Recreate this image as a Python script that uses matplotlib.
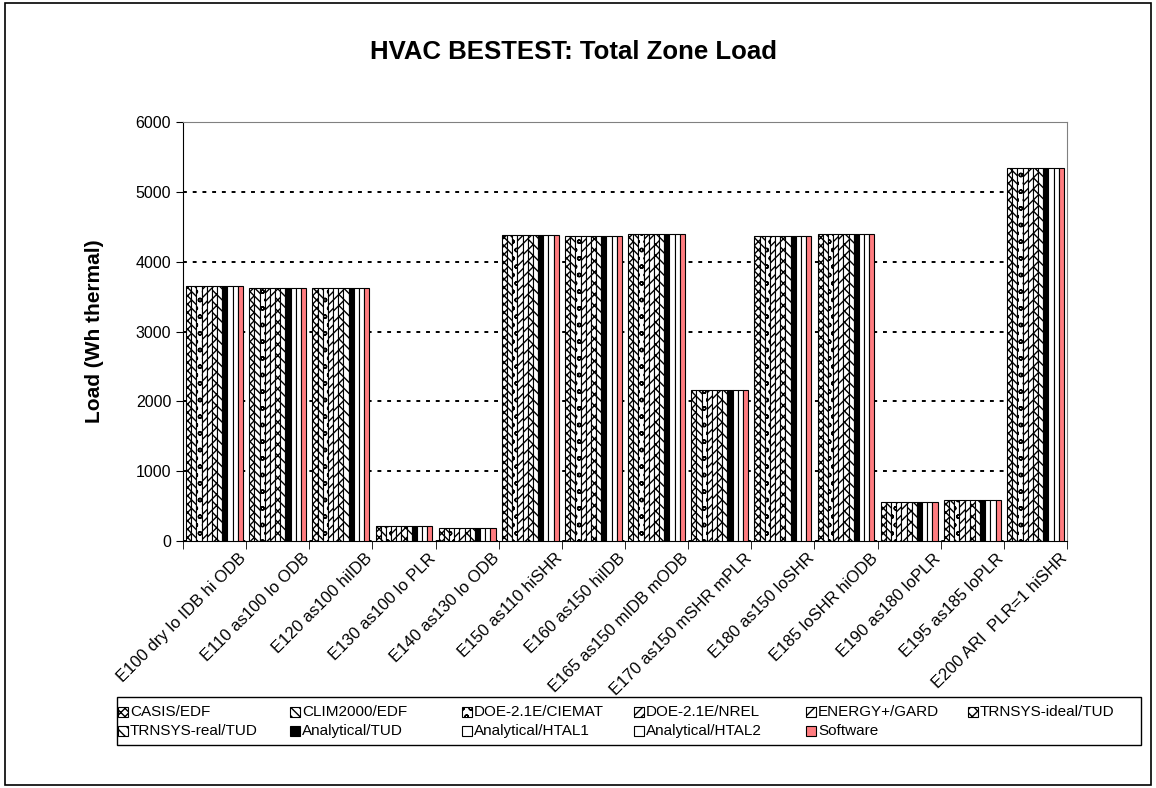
import matplotlib
matplotlib.use("Agg")
import matplotlib.pyplot as plt
import matplotlib.patches as mpatches
import matplotlib.transforms as mtransforms
import numpy as np

plt.rcParams['font.family'] = ['Liberation Sans', 'DejaVu Sans']
plt.rcParams['hatch.linewidth'] = 1.0

categories = ["E100 dry lo IDB hi ODB", "E110 as100 lo ODB", "E120 as100 hiIDB",
              "E130 as100 lo PLR", "E140 as130 lo ODB", "E150 as110 hiSHR",
              "E160 as150 hiIDB", "E165 as150 mIDB mODB", "E170 as150 mSHR mPLR",
              "E180 as150 loSHR", "E185 loSHR hiODB", "E190 as180 loPLR",
              "E195 as185 loPLR", "E200 ARI  PLR=1 hiSHR"]

series_names = ["CASIS/EDF", "CLIM2000/EDF", "DOE-2.1E/CIEMAT", "DOE-2.1E/NREL",
                "ENERGY+/GARD", "TRNSYS-ideal/TUD", "TRNSYS-real/TUD",
                "Analytical/TUD", "Analytical/HTAL1", "Analytical/HTAL2", "Software"]

casis_edf      = [3650, 3630, 3620, 210, 190, 4380, 4370, 4390, 2160, 4370, 4390, 560, 580, 5340]
clim2000_edf   = [3650, 3630, 3620, 210, 190, 4380, 4370, 4390, 2160, 4370, 4390, 560, 580, 5340]
doe_ciemat     = [3650, 3630, 3620, 210, 190, 4380, 4370, 4390, 2160, 4370, 4390, 560, 580, 5340]
doe_nrel       = [3650, 3630, 3620, 210, 190, 4380, 4370, 4390, 2160, 4370, 4390, 560, 580, 5340]
energyplus     = [3650, 3630, 3620, 210, 190, 4380, 4370, 4390, 2160, 4370, 4390, 560, 580, 5340]
trnsys_ideal   = [3650, 3630, 3620, 210, 190, 4380, 4370, 4390, 2160, 4370, 4390, 560, 580, 5340]
trnsys_real    = [3650, 3630, 3620, 210, 190, 4380, 4370, 4390, 2160, 4370, 4390, 560, 580, 5340]
analytical_tud = [3650, 3630, 3620, 210, 190, 4380, 4370, 4390, 2160, 4370, 4390, 560, 580, 5340]
htal1          = [3650, 3630, 3620, 210, 190, 4380, 4370, 4390, 2160, 4370, 4390, 560, 580, 5340]
htal2          = [3650, 3630, 3620, 210, 190, 4380, 4370, 4390, 2160, 4370, 4390, 560, 580, 5340]
software       = [3650, 3630, 3620, 210, 190, 4380, 4370, 4390, 2160, 4370, 4390, 560, 580, 5340]

all_values = [casis_edf, clim2000_edf, doe_ciemat, doe_nrel, energyplus, trnsys_ideal,
              trnsys_real, analytical_tud, htal1, htal2, software]

# fill / hatch per series, roughly like the excel patterns
styles = [
    ("white", "XXXX"),
    ("white", "\\\\\\\\"),
    ("white", "oo"),
    ("white", "////"),
    ("white", "///"),
    ("white", "xxx"),
    ("white", "\\\\\\"),
    ("black", None),
    ("white", None),
    ("white", None),
    ("#FF7C80", None),
]

W, H = 1156, 788
fig = plt.figure(figsize=(W / 100, H / 100), dpi=100)
ax = fig.add_axes([183 / W, 1 - 541 / H, (1067 - 183) / W, (541 - 122) / H])

n = len(series_names)
group = 0.9
w = group / n
x = np.arange(len(categories))

for i, (name, vals) in enumerate(zip(series_names, all_values)):
    fc, hatch = styles[i]
    pos = x - group / 2 + w * (i + 0.5)
    ax.bar(pos, vals, width=w, color=fc, edgecolor="black", linewidth=0.8,
           hatch=hatch, label=name, zorder=3)

ax.set_xlim(-0.5, len(categories) - 0.5)
ax.set_ylim(0, 6000)
ax.set_yticks(range(0, 6001, 1000))
ax.set_xticks(x)
ax.set_xticklabels(categories, rotation=45, ha="right", rotation_mode="anchor", fontsize=12)
ax.tick_params(axis="x", length=0, pad=7)
shift = mtransforms.ScaledTranslation(0.24, 0, fig.dpi_scale_trans)
for lab in ax.get_xticklabels():
    lab.set_transform(lab.get_transform() + shift)
ax.set_xticks(np.arange(-0.5, len(categories), 1.0), minor=True)
ax.tick_params(axis="x", which="minor", length=6, direction="out")
ax.tick_params(axis="y", labelsize=11.5, length=5)

ax.yaxis.grid(True, color="black", linestyle=(0, (2, 3)), linewidth=1.4, zorder=0)
ax.set_axisbelow(True)
ax.spines["top"].set_color("#808080")
ax.spines["right"].set_color("#808080")
ax.spines["left"].set_color("black")
ax.spines["bottom"].set_color("black")

ax.set_ylabel("Load (Wh thermal)", fontsize=15, fontweight="bold")
ax.yaxis.set_label_coords(-0.089, 0.5)
fig.text(574 / W, 1 - 52 / H, "HVAC BESTEST: Total Zone Load", ha="center", va="center",
         fontsize=18.5, fontweight="bold")

# legend drawn like excel: fixed column width, row order
leg_box = mpatches.Rectangle((117 / W, 1 - 745 / H), (1141 - 117) / W, (745 - 697) / H,
                             transform=fig.transFigure, fill=False, edgecolor="black",
                             linewidth=1.0)
fig.patches.append(leg_box)
col_x = [118, 290, 462, 634, 806, 968]
row_y = [712, 731]
for k, name in enumerate(series_names):
    r, c = divmod(k, 6)
    fc, hatch = styles[k]
    hx, hy = col_x[c], row_y[r]
    sw = mpatches.Rectangle((hx / W, 1 - (hy + 5) / H), 10 / W, 10 / H,
                            transform=fig.transFigure, facecolor=fc, edgecolor="black",
                            linewidth=0.8, hatch=hatch)
    fig.patches.append(sw)
    fig.text((hx + 12) / W, 1 - hy / H, name, ha="left", va="center", fontsize=11)

fig.patches.append(mpatches.Rectangle((0.004, 0.004), 0.992, 0.992, transform=fig.transFigure,
                                      fill=False, edgecolor="black", linewidth=1.2))

fig.savefig("out.png", dpi=100)
